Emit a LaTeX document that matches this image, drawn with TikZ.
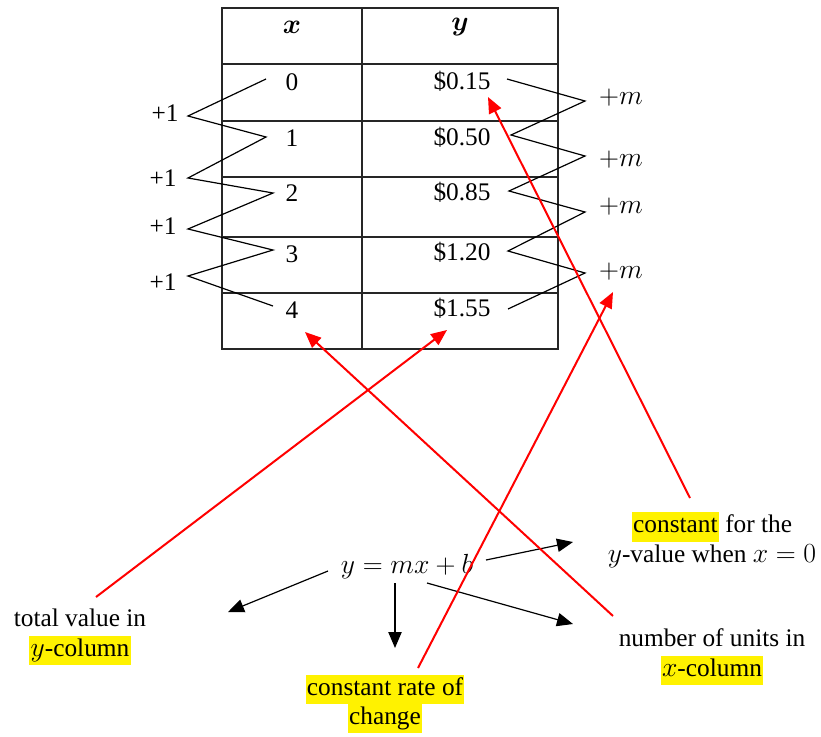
\documentclass[tikz,border=0pt]{standalone}
\usepackage{amsmath}
\usepackage{fontspec}
\setmainfont{Liberation Serif}
\usepackage{xcolor}
\usepackage{tikz}
\usetikzlibrary{arrows.meta, positioning, calc}

\newcommand{\hlite}[1]{{\setlength{\fboxsep}{0pt}\colorbox{yellow}{\strut\kern1pt #1\kern1pt}}}
\newcommand{\mth}[1]{{\fontsize{22.5}{22}\selectfont$#1$}}

\begin{document}
\begin{tikzpicture}[
    x=0.75pt, y=-0.75pt,
    cell/.style={font=\fontsize{19}{22}\selectfont, inner sep=1pt},
    note/.style={font=\fontsize{19}{22}\selectfont, align=center, inner sep=1pt},
    rule/.style={draw=black!85, line width=1.1pt},
    zig/.style={draw=black, line width=0.9pt},
    redarrow/.style={draw=red, line width=1.5pt, -{Triangle[length=12pt, width=10pt]}},
    blackarrow/.style={draw=black, line width=0.9pt, -{Triangle[length=12pt, width=10pt]}}
]
\useasboundingbox (0,0) rectangle (821,736);

% Table
\draw[rule] (222,8) rectangle (558,349);
\draw[rule] (362,8) -- (362,349);
\draw[rule] (222,64) -- (558,64);
\draw[rule] (222,121) -- (558,121);
\draw[rule] (222,177) -- (558,177);
\draw[rule] (222,237) -- (558,237);
\draw[rule] (222,293) -- (558,293);

\node[cell] (hx) at (292,27) {\mth{\boldsymbol{x}}};
\node[cell] (hy) at (460,27) {\mth{\boldsymbol{y}}};

\node[cell] (x0) at (292,82) {0};
\node[cell] (x1) at (292,138) {1};
\node[cell] (x2) at (292,193) {2};
\node[cell] (x3) at (292,254) {3};
\node[cell] (x4) at (292,310) {4};

\node[cell] (y0) at (462,81) {\$0.15};
\node[cell] (y1) at (462,137) {\$0.50};
\node[cell] (y2) at (462,192) {\$0.85};
\node[cell] (y3) at (462,252) {\$1.20};
\node[cell] (y4) at (462,308) {\$1.55};

% Zigzag, x-column
\coordinate (zx0) at (266,79);
\coordinate (zx1) at (266,137);
\coordinate (zx2) at (273,193);
\coordinate (zx3) at (273,250);
\coordinate (zx4) at (273,306);
\coordinate (zl1) at (188,116);
\coordinate (zl2) at (188,178);
\coordinate (zl3) at (188,229);
\coordinate (zl4) at (188,276);
\draw[zig] (zx0) -- (zl1) -- (zx1) -- (zl2) -- (zx2) -- (zl3) -- (zx3) -- (zl4) -- (zx4);

\node[cell] (p1) at (165,113) {+1};
\node[cell] (p2) at (163,178) {+1};
\node[cell] (p3) at (163,226) {+1};
\node[cell] (p4) at (163,282) {+1};

% Zigzag, y-column
\coordinate (zy0) at (507,79);
\coordinate (zy1) at (511,135);
\coordinate (zy2) at (509,191);
\coordinate (zy3) at (508,251);
\coordinate (zy4) at (508,309);
\coordinate (zr1) at (585,101);
\coordinate (zr2) at (585,156);
\coordinate (zr3) at (585,212);
\coordinate (zr4) at (585,273);
\draw[zig] (zy0) -- (zr1) -- (zy1) -- (zr2) -- (zy2) -- (zr3) -- (zy3) -- (zr4) -- (zy4);

\node[cell] (m1) at (621,98) {\mth{+m}};
\node[cell] (m2) at (621,160) {\mth{+m}};
\node[cell] (m3) at (621,207) {\mth{+m}};
\node[cell] (m4) at (621,272) {\mth{+m}};

% Equation and notes
\node[cell] (eq) at (407,567) {\mth{y = mx + b}};

\node[note] (tv) at (80,637) {total value in\\\hlite{\mth{y}-column}};
\node[note] (cr) at (385,704) {\hlite{constant rate of}\\\hlite{change}};
\node[note] (cf) at (712,540) {\hlite{constant} for the\\\mth{y}-value when \mth{x = 0}};
\node[note] (nu) at (712,657) {number of units in\\\hlite{\mth{x}-column}};

% Black arrows from the equation
\coordinate (eqL) at (328,571);
\coordinate (eqD) at (395,583);
\coordinate (eqU) at (486,560);
\coordinate (eqR) at (427,583);
\coordinate (aL) at (228,612);
\coordinate (aD) at (395,648);
\coordinate (aU) at (573,542);
\coordinate (aR) at (573,624);
\draw[blackarrow] (eqL) -- (aL);
\draw[blackarrow] (eqD) -- (aD);
\draw[blackarrow] (eqU) -- (aU);
\draw[blackarrow] (eqR) -- (aR);

% Red arrows into the table
\coordinate (tvtop) at (96,597);
\coordinate (crtop) at (418,668);
\coordinate (cftop) at (690,498);
\coordinate (nutop) at (613,616);
\coordinate (ty4) at (447,330);
\coordinate (tx4) at (305,332);
\coordinate (tm4) at (613,292);
\coordinate (ty0) at (488,97);
\draw[redarrow] (tvtop) -- (ty4);
\draw[redarrow] (nutop) -- (tx4);
\draw[redarrow] (crtop) -- (tm4);
\draw[redarrow] (cftop) -- (ty0);

\end{tikzpicture}
\end{document}
